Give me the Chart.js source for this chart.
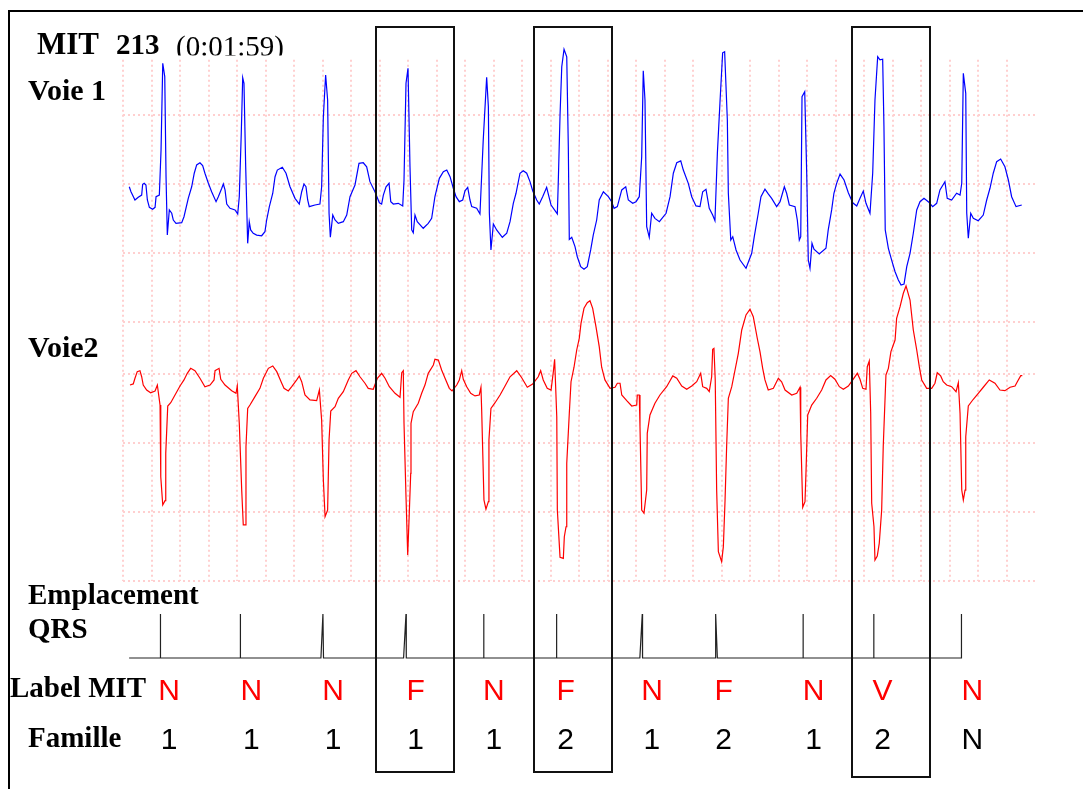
<!DOCTYPE html>
<html><head><meta charset="utf-8">
<script src="https://cdn.jsdelivr.net/npm/chart.js@4.4.1/dist/chart.umd.min.js"></script>
<style>html,body{margin:0;padding:0;background:#fff;}canvas{display:block;}</style>
</head><body>
<canvas id="c" width="1083" height="789"></canvas>
<script>
// ---- DATA (time in s, amplitude in mV) ----
const voie1 = [[0.044,-0.020],[0.056,-0.056],[0.084,-0.116],[0.107,-0.096],[0.131,-0.080],[0.138,-0.002],[0.149,0.005],[0.161,-0.007],[0.171,-0.116],[0.185,-0.169],[0.208,-0.183],[0.225,-0.169],[0.232,-0.092],[0.255,-0.080],[0.267,0.246],[0.279,0.875],[0.293,0.778],[0.302,0.053],[0.311,-0.370],[0.325,-0.188],[0.342,-0.212],[0.353,-0.261],[0.372,-0.285],[0.412,-0.280],[0.428,-0.237],[0.458,-0.104],[0.482,-0.020],[0.500,0.078],[0.517,0.138],[0.540,0.154],[0.559,0.133],[0.575,0.078],[0.599,0.005],[0.622,-0.056],[0.653,-0.128],[0.669,-0.092],[0.693,-0.031],[0.704,0],[0.716,-0.043],[0.728,-0.145],[0.751,-0.176],[0.786,-0.188],[0.805,-0.217],[0.816,-0.092],[0.830,0.367],[0.840,0.770],[0.849,0.730],[0.861,0.125],[0.875,-0.430],[0.886,-0.273],[0.896,-0.333],[0.914,-0.357],[0.938,-0.370],[0.973,-0.375],[0.996,-0.346],[1.008,-0.261],[1.027,-0.164],[1.051,-0.067],[1.067,0.053],[1.083,0.101],[1.118,0.121],[1.144,0.078],[1.172,-0.020],[1.207,-0.104],[1.237,-0.145],[1.254,-0.056],[1.270,0],[1.284,-0.020],[1.296,-0.116],[1.307,-0.164],[1.347,-0.152],[1.382,-0.145],[1.394,-0.020],[1.406,0.488],[1.422,0.790],[1.436,0.609],[1.446,-0.212],[1.455,-0.386],[1.472,-0.225],[1.488,-0.261],[1.511,-0.285],[1.546,-0.273],[1.570,-0.225],[1.593,-0.092],[1.628,-0.007],[1.656,0.150],[1.686,0.154],[1.710,0.125],[1.733,0.017],[1.768,-0.056],[1.799,-0.136],[1.815,-0.145],[1.827,-0.080],[1.846,-0.020],[1.867,0.005],[1.879,-0.128],[1.897,-0.145],[1.932,-0.140],[1.963,-0.159],[1.972,0.029],[1.986,0.730],[2.000,0.838],[2.014,0.125],[2.026,-0.333],[2.037,-0.353],[2.049,-0.225],[2.065,-0.273],[2.107,-0.321],[2.142,-0.285],[2.166,-0.249],[2.189,-0.092],[2.220,0.041],[2.248,0.089],[2.272,0.101],[2.295,0.053],[2.318,-0.031],[2.337,-0.092],[2.360,-0.128],[2.384,-0.116],[2.400,-0.049],[2.419,-0.024],[2.435,-0.116],[2.447,-0.164],[2.482,-0.176],[2.505,-0.217],[2.528,0.319],[2.552,0.773],[2.564,0.560],[2.571,-0.212],[2.582,-0.478],[2.599,-0.290],[2.622,-0.333],[2.662,-0.386],[2.693,-0.357],[2.716,-0.273],[2.739,-0.140],[2.758,-0.067],[2.786,0.078],[2.809,0.096],[2.833,0.078],[2.856,0.017],[2.875,-0.049],[2.903,-0.116],[2.921,-0.145],[2.945,-0.092],[2.973,-0.024],[2.989,-0.092],[3.004,-0.152],[3.048,-0.217],[3.055,0.029],[3.067,0.500],[3.079,0.850],[3.095,0.976],[3.114,0.922],[3.125,0.270],[3.132,-0.401],[3.149,-0.386],[3.172,-0.454],[3.188,-0.527],[3.212,-0.599],[3.235,-0.618],[3.258,-0.599],[3.282,-0.478],[3.300,-0.370],[3.324,-0.261],[3.342,-0.116],[3.371,-0.056],[3.406,-0.092],[3.429,-0.128],[3.446,-0.176],[3.469,-0.164],[3.500,-0.043],[3.528,-0.020],[3.546,-0.116],[3.577,-0.140],[3.600,-0.128],[3.623,-0.092],[3.640,0.198],[3.651,0.821],[3.663,0.609],[3.675,-0.309],[3.693,-0.386],[3.710,-0.212],[3.733,-0.249],[3.764,-0.273],[3.811,-0.212],[3.839,-0.092],[3.862,0.078],[3.886,0.154],[3.914,0.167],[3.932,0.101],[3.967,0.005],[3.991,-0.092],[4.021,-0.159],[4.049,-0.164],[4.068,-0.056],[4.091,-0.038],[4.114,-0.176],[4.138,-0.225],[4.154,-0.266],[4.171,0.222],[4.189,0.585],[4.208,0.951],[4.222,0.959],[4.241,0.464],[4.248,-0.067],[4.265,-0.406],[4.279,-0.382],[4.302,-0.478],[4.330,-0.551],[4.372,-0.611],[4.412,-0.502],[4.430,-0.382],[4.458,-0.212],[4.477,-0.092],[4.505,-0.038],[4.528,-0.072],[4.552,-0.104],[4.587,-0.164],[4.611,-0.128],[4.641,-0.020],[4.657,-0.067],[4.676,-0.152],[4.716,-0.164],[4.732,-0.261],[4.746,-0.406],[4.756,-0.382],[4.765,0.633],[4.784,0.669],[4.798,0.078],[4.809,-0.551],[4.821,-0.611],[4.835,-0.430],[4.849,-0.473],[4.886,-0.507],[4.933,-0.466],[4.949,-0.333],[4.973,-0.188],[4.989,-0.067],[5.008,0.005],[5.032,0.072],[5.060,0.029],[5.090,-0.063],[5.121,-0.136],[5.149,-0.159],[5.172,-0.104],[5.195,-0.051],[5.214,-0.140],[5.242,-0.212],[5.261,0.078],[5.277,0.609],[5.296,0.922],[5.312,0.899],[5.331,0.904],[5.340,0.415],[5.349,-0.333],[5.371,-0.466],[5.394,-0.551],[5.418,-0.636],[5.441,-0.696],[5.460,-0.732],[5.481,-0.725],[5.500,-0.599],[5.523,-0.502],[5.546,-0.357],[5.570,-0.188],[5.593,-0.128],[5.621,-0.104],[5.651,-0.128],[5.682,-0.164],[5.710,-0.140],[5.733,-0.043],[5.768,0.017],[5.784,-0.104],[5.815,-0.116],[5.850,-0.067],[5.874,-0.080],[5.886,0.005],[5.897,0.802],[5.914,0.657],[5.921,-0.212],[5.932,-0.393],[5.949,-0.212],[5.967,-0.249],[6.002,-0.266],[6.037,-0.225],[6.061,-0.116],[6.084,-0.031],[6.107,0.078],[6.131,0.162],[6.159,0.181],[6.189,0.125],[6.213,0.029],[6.236,-0.092],[6.267,-0.164],[6.307,-0.152]];

const voie2 = [[0.049,-0.080],[0.072,-0.072],[0.084,-0.031],[0.100,0.017],[0.119,0.024],[0.131,-0.020],[0.142,-0.080],[0.166,-0.116],[0.194,-0.136],[0.225,-0.123],[0.241,-0.080],[0.260,-0.225],[0.265,-0.744],[0.279,-0.949],[0.295,-0.918],[0.300,-0.575],[0.314,-0.232],[0.335,-0.208],[0.365,-0.152],[0.400,-0.087],[0.428,-0.043],[0.451,0.005],[0.475,0.041],[0.505,0.024],[0.540,-0.031],[0.575,-0.092],[0.611,-0.080],[0.639,-0.043],[0.646,0.024],[0.674,0.041],[0.686,-0.038],[0.716,-0.080],[0.763,-0.121],[0.793,-0.140],[0.802,-0.087],[0.816,-0.357],[0.833,-0.841],[0.844,-1.094],[0.861,-1.094],[0.863,-0.527],[0.875,-0.249],[0.891,-0.225],[0.926,-0.164],[0.961,-0.104],[0.985,-0.031],[1.020,0.041],[1.051,0.058],[1.079,0.017],[1.114,-0.067],[1.130,-0.104],[1.160,-0.123],[1.184,-0.092],[1.219,-0.043],[1.237,-0.014],[1.254,-0.056],[1.277,-0.152],[1.312,-0.188],[1.359,-0.193],[1.378,-0.116],[1.394,-0.333],[1.406,-0.768],[1.418,-1.034],[1.436,-0.986],[1.446,-0.478],[1.458,-0.268],[1.488,-0.237],[1.511,-0.176],[1.546,-0.128],[1.581,-0.043],[1.605,0.005],[1.635,0.024],[1.663,-0.020],[1.698,-0.067],[1.721,-0.104],[1.756,-0.111],[1.785,-0.031],[1.815,0.005],[1.839,-0.031],[1.869,-0.092],[1.909,-0.140],[1.944,-0.169],[1.956,0.009],[1.967,0.024],[1.972,-0.357],[1.986,-0.889],[1.998,-1.312],[2.009,-1.009],[2.019,-0.720],[2.021,-0.357],[2.037,-0.273],[2.072,-0.212],[2.096,-0.140],[2.119,-0.080],[2.142,0.005],[2.178,0.065],[2.189,0.107],[2.213,0.101],[2.236,0.029],[2.260,-0.031],[2.290,-0.104],[2.309,-0.123],[2.342,-0.080],[2.360,-0.043],[2.377,0.024],[2.388,-0.038],[2.412,-0.092],[2.440,-0.140],[2.470,-0.159],[2.500,-0.152],[2.512,-0.096],[2.517,-0.261],[2.533,-0.913],[2.547,-0.980],[2.564,-0.925],[2.568,-0.478],[2.582,-0.249],[2.611,-0.208],[2.646,-0.152],[2.681,-0.087],[2.716,-0.020],[2.763,0.024],[2.798,-0.027],[2.837,-0.096],[2.875,-0.072],[2.914,-0.020],[2.931,0.024],[2.949,-0.043],[2.977,-0.104],[3.004,-0.116],[3.020,0.017],[3.029,0.107],[3.044,-0.309],[3.048,-0.986],[3.067,-1.328],[3.090,-1.336],[3.097,-1.179],[3.109,-1.107],[3.114,-0.647],[3.132,-0.285],[3.144,-0.056],[3.165,0.049],[3.184,0.174],[3.202,0.259],[3.214,0.367],[3.235,0.476],[3.258,0.517],[3.277,0.531],[3.296,0.476],[3.319,0.343],[3.342,0.198],[3.359,0.049],[3.382,-0.043],[3.418,-0.104],[3.453,-0.096],[3.469,-0.067],[3.488,-0.067],[3.500,-0.152],[3.535,-0.193],[3.570,-0.232],[3.605,-0.225],[3.609,-0.152],[3.623,-0.152],[3.628,-0.382],[3.640,-0.986],[3.656,-1.009],[3.675,-0.841],[3.679,-0.430],[3.698,-0.297],[3.733,-0.212],[3.768,-0.152],[3.815,-0.092],[3.858,-0.014],[3.886,-0.031],[3.921,-0.087],[3.956,-0.111],[3.991,-0.087],[4.026,-0.056],[4.054,0.005],[4.068,-0.092],[4.096,-0.104],[4.114,-0.128],[4.131,-0.020],[4.138,0.179],[4.147,0.186],[4.156,-0.043],[4.166,-0.841],[4.178,-1.288],[4.201,-1.360],[4.213,-1.251],[4.225,-0.913],[4.236,-0.527],[4.248,-0.176],[4.272,-0.092],[4.295,0.029],[4.318,0.150],[4.342,0.319],[4.372,0.428],[4.400,0.469],[4.423,0.415],[4.451,0.259],[4.470,0.162],[4.489,0.041],[4.505,-0.043],[4.528,-0.116],[4.564,-0.104],[4.599,-0.031],[4.622,-0.056],[4.646,-0.116],[4.693,-0.152],[4.728,-0.140],[4.751,-0.096],[4.756,-0.430],[4.770,-0.966],[4.786,-0.925],[4.793,-0.708],[4.805,-0.297],[4.833,-0.225],[4.868,-0.176],[4.903,-0.116],[4.933,-0.043],[4.966,-0.012],[4.996,-0.038],[5.027,-0.092],[5.055,-0.111],[5.090,-0.087],[5.121,-0.043],[5.153,0.005],[5.172,-0.038],[5.191,-0.104],[5.214,-0.111],[5.223,0.053],[5.237,0.094],[5.247,-0.285],[5.254,-0.937],[5.270,-1.107],[5.277,-1.348],[5.293,-1.319],[5.307,-1.227],[5.324,-0.986],[5.335,-0.527],[5.354,-0.007],[5.371,0.041],[5.389,0.162],[5.418,0.246],[5.429,0.404],[5.453,0.488],[5.476,0.585],[5.495,0.638],[5.523,0.536],[5.546,0.319],[5.570,0.174],[5.588,0.053],[5.605,-0.043],[5.640,-0.104],[5.675,-0.104],[5.698,-0.067],[5.714,0.009],[5.738,-0.014],[5.756,-0.056],[5.780,-0.080],[5.815,-0.092],[5.846,-0.128],[5.862,-0.063],[5.874,-0.285],[5.886,-0.841],[5.897,-0.913],[5.909,-0.841],[5.914,-0.454],[5.932,-0.232],[5.967,-0.183],[6.002,-0.140],[6.037,-0.096],[6.079,-0.043],[6.119,-0.067],[6.154,-0.116],[6.189,-0.121],[6.225,-0.096],[6.260,-0.087],[6.276,-0.056],[6.300,-0.012],[6.311,-0.012]];

// QRS location marker signal (0 = baseline, 1 = mark)
const qrsMarks = [[0.043,0],[0.263,0],[0.263,1],[0.263,0],[0.824,0],[0.824,1],[0.824,0],[1.389,0],[1.403,1],[1.407,0],[1.969,0],[1.986,1],[1.988,0],[2.532,0],[2.532,1],[2.532,0],[3.043,0],[3.043,1],[3.043,0],[3.627,0],[3.644,1],[3.646,0],[4.159,0],[4.159,1],[4.171,0],[4.773,0],[4.773,1],[4.773,0],[5.269,0],[5.269,1],[5.269,0],[5.884,0],[5.884,1]];

const beatLabelT = [0.323, 0.900, 1.475, 2.053, 2.603, 3.106, 3.712, 4.215, 4.846, 5.330, 5.960];
const labelsMIT  = ['N','N','N','F','N','F','N','F','N','V','N'];
const familles   = ['1','1','1','1','1','2','1','2','1','2','N'];

const boxStart = [1.775, 2.884, 5.116];
const boxEnd   = [2.323, 3.434, 5.665];

const gridTimes = [0,0.2,0.4,0.6,0.8,1.0,1.2,1.4,1.6,1.8,2.0,2.2,2.4,2.6,2.8,3.0,3.2,3.4,3.6,3.8,4.0,4.2,4.4,4.6,4.8,5.0,5.2,5.4,5.6,5.8,6.0,6.2];
const grid1V = [0.5, 0, -0.5, -1.0];
const grid2V = [0, -0.5, -1.0, -1.5];

// ---- LAYOUT ----
const W = 1083, H = 789;
const PX_PER_S = 142.5, X_T0 = 123;      // time 0 at grid left
const PX_PER_MV = 138;
const BASE1 = 184, BASE2 = 374;           // zero lines of the two channels
const QRS_BASE = 658, QRS_H = 44;

const xMin = -X_T0 / PX_PER_S, xMax = (W - X_T0) / PX_PER_S;
function yRange(base, pxPerUnit){ const mx = base / pxPerUnit; return {min: mx - H / pxPerUnit, max: mx}; }
const r1 = yRange(BASE1, PX_PER_MV), r2 = yRange(BASE2, PX_PER_MV), r3 = yRange(QRS_BASE, QRS_H);

const toXY = arr => arr.map(p => ({x: p[0], y: p[1]}));

const ecgPlugin = {
  id: 'ecgDecor',
  beforeDatasetsDraw(chart){
    const {ctx} = chart; const {x, y1, y2} = chart.scales;
    ctx.save();
    // outer frame
    ctx.fillStyle = '#000';
    ctx.fillRect(8, 10, W - 8, 2);
    ctx.fillRect(8, 10, 2, H - 10);
    // dotted grid
    ctx.strokeStyle = '#FFCFCF'; ctx.lineWidth = 2; ctx.setLineDash([2, 3]);
    const top = y1.getPixelForValue(0.9), bot = y2.getPixelForValue(-1.5);
    gridTimes.forEach(t => { const px = Math.round(x.getPixelForValue(t)); ctx.beginPath(); ctx.moveTo(px, top); ctx.lineTo(px, bot); ctx.stroke(); });
    const xl = x.getPixelForValue(0), xr = x.getPixelForValue(6.4);
    grid1V.forEach(v => { const py = Math.round(y1.getPixelForValue(v)); ctx.beginPath(); ctx.moveTo(xl, py); ctx.lineTo(xr, py); ctx.stroke(); });
    grid2V.forEach(v => { const py = Math.round(y2.getPixelForValue(v)); ctx.beginPath(); ctx.moveTo(xl, py); ctx.lineTo(xr, py); ctx.stroke(); });
    ctx.restore();
  },
  afterDatasetsDraw(chart){
    const {ctx} = chart; const {x, y1, y3} = chart.scales;
    ctx.save();
    // boxes around selected beats
    ctx.strokeStyle = '#111'; ctx.lineWidth = 2; ctx.setLineDash([]);
    const boxBottomV = [-2.59, -2.59, -2.70];
    const topPx = Math.round(y1.getPixelForValue(1.138));
    boxStart.forEach((s, i) => {
      const l = Math.round(x.getPixelForValue(s)), r = Math.round(x.getPixelForValue(boxEnd[i]));
      const b = Math.round(y3.getPixelForValue(boxBottomV[i]));
      ctx.strokeRect(l, topPx, r - l, b - topPx);
    });
    // beat labels
    ctx.textAlign = 'center'; ctx.textBaseline = 'alphabetic';
    ctx.font = '30px "Liberation Sans", Arial, sans-serif';
    beatLabelT.forEach((t, i) => {
      const px = x.getPixelForValue(t);
      ctx.fillStyle = '#FF0000'; ctx.fillText(labelsMIT[i], px, 700);
      ctx.fillStyle = '#000'; ctx.fillText(familles[i], px, 749);
    });
    // left labels
    ctx.textAlign = 'left'; ctx.fillStyle = '#000';
    const serifB = s => 'bold ' + s + 'px "Liberation Serif", "Times New Roman", serif';
    ctx.font = serifB(30); ctx.fillText('Voie 1', 28, 100);
    ctx.fillText('Voie2', 28, 357);
    ctx.font = serifB(29); ctx.fillText('Emplacement', 28, 604);
    ctx.fillText('QRS', 28, 638);
    ctx.fillText('Label MIT', 10, 697);
    ctx.fillText('Famille', 28, 747);
    // title (bottom slightly cut as in the source)
    ctx.save();
    ctx.beginPath(); ctx.rect(0, 12, W, 43.5); ctx.clip();
    ctx.font = serifB(31); ctx.fillText('MIT', 37, 53.5);
    ctx.font = serifB(29); ctx.fillText('213', 116, 54);
    ctx.font = '29px "Liberation Serif", "Times New Roman", serif'; ctx.fillText('(0:01:59)', 176, 56);
    ctx.restore();
    ctx.restore();
  }
};

new Chart(document.getElementById('c'), {
  type: 'line',
  data: {
    datasets: [
      {label: 'Voie 1', data: toXY(voie1), yAxisID: 'y1', borderColor: '#0000FF', borderWidth: 1.2},
      {label: 'Voie 2', data: toXY(voie2), yAxisID: 'y2', borderColor: '#FF0000', borderWidth: 1.2},
      {label: 'Emplacement QRS', data: toXY(qrsMarks), yAxisID: 'y3', borderColor: '#222', borderWidth: 1.2}
    ]
  },
  options: {
    responsive: false, animation: false, devicePixelRatio: 1,
    layout: {padding: 0, autoPadding: false},
    elements: {point: {radius: 0, hoverRadius: 0}, line: {tension: 0, fill: false}},
    plugins: {legend: {display: false}, tooltip: {enabled: false}, title: {display: false}},
    events: [],
    scales: {
      x: {type: 'linear', display: false, min: xMin, max: xMax},
      y1: {type: 'linear', display: false, min: r1.min, max: r1.max},
      y2: {type: 'linear', display: false, min: r2.min, max: r2.max},
      y3: {type: 'linear', display: false, min: r3.min, max: r3.max}
    }
  },
  plugins: [ecgPlugin]
});
</script>
</body></html>
